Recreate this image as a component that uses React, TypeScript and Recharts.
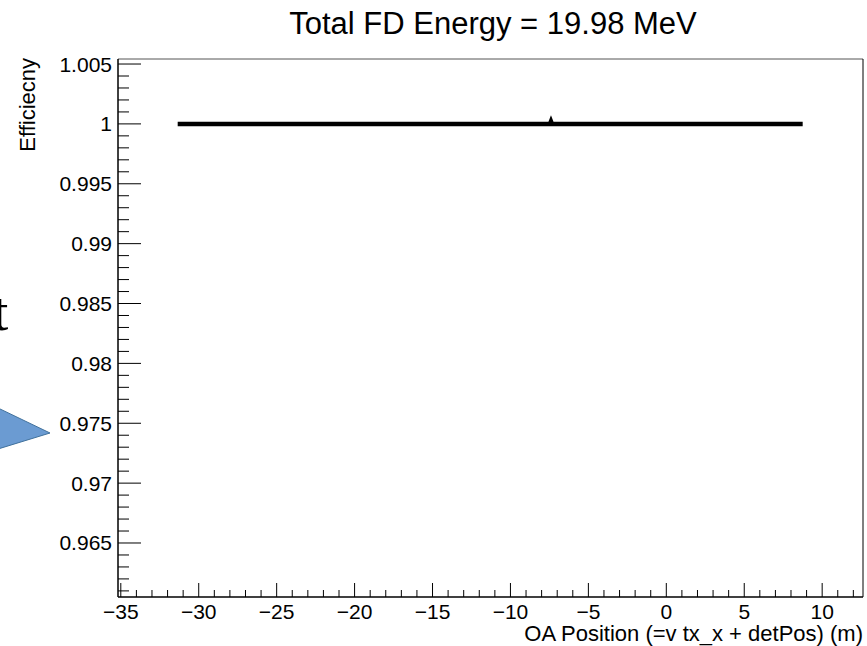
import { LineChart, Line, XAxis, YAxis, ReferenceLine } from 'recharts'

// OA position (m) and detection efficiency
const positions = [-31.35, -30, -25, -20, -15, -10, -7.46, -7.4, -7.34, -5, 0, 5, 8.75]
const efficiency = [1, 1, 1, 1, 1, 1, 1, 1.0002, 1, 1, 1, 1, 1]

const xMajorTicks = [-35, -30, -25, -20, -15, -10, -5, 0, 5, 10]

const X_DOMAIN: [number, number] = [-35.18, 12.62]
const Y_DOMAIN: [number, number] = [0.96049, 1.00542]

// minor ticks every 1 m and every 0.001
const xTicks: number[] = []
for (let k = -35; k <= 12; k++) xTicks.push(k)
const yTicks: number[] = []
for (let k = 961; k <= 1005; k++) yTicks.push(k / 1000)

const data = positions.map((pos, i) => ({ pos, eff: efficiency[i] }))

const FONT = '"Liberation Sans", Arial, Helvetica, sans-serif'

const fmtX = (v: number) => (v < 0 ? '\u2212' + Math.abs(v) : String(v))

function XTick({ x, y, payload }: { x?: number; y?: number; payload?: { value: number } }) {
  const v = payload?.value ?? 0
  const major = xMajorTicks.includes(v)
  const len = major ? 14 : 7
  return (
    <g>
      <line x1={x} x2={x} y1={y} y2={(y ?? 0) - len} stroke="#000" strokeWidth={1} />
      {major && (
        <text x={x} y={(y ?? 0) + 22} textAnchor="middle" fontSize={21} fontFamily={FONT} fill="#000">
          {fmtX(v)}
        </text>
      )}
    </g>
  )
}

function YTick({ x, y, payload }: { x?: number; y?: number; payload?: { value: number } }) {
  const v = payload?.value ?? 0
  const milli = Math.round(v * 1000)
  const major = milli % 5 === 0
  const len = major ? 23 : 11
  return (
    <g>
      <line x1={x} x2={(x ?? 0) + len} y1={y} y2={y} stroke="#000" strokeWidth={1} />
      {major && (
        <text x={(x ?? 0) - 6} y={(y ?? 0) + 7.5} textAnchor="end" fontSize={21} fontFamily={FONT} fill="#000">
          {String(milli / 1000)}
        </text>
      )}
    </g>
  )
}

export default function App() {
  return (
    <div style={{ position: 'absolute', left: 0, top: 0, width: 867, height: 646, background: '#fff', overflow: 'hidden' }}>
      <LineChart width={867} height={646} data={data} margin={{ top: 59, right: 4, bottom: 19, left: 58 }}>
        <XAxis
          dataKey="pos"
          type="number"
          domain={X_DOMAIN}
          ticks={xTicks}
          interval={0}
          allowDataOverflow
          tickSize={0}
          tickMargin={0}
          tickLine={false}
          axisLine={{ stroke: '#000', strokeWidth: 1.5 }}
          tick={(p: any) => <XTick {...p} />}
        />
        <YAxis
          type="number"
          domain={Y_DOMAIN}
          ticks={yTicks}
          interval={0}
          allowDataOverflow
          tickSize={0}
          tickMargin={0}
          tickLine={false}
          axisLine={{ stroke: '#000', strokeWidth: 1.5 }}
          tick={(p: any) => <YTick {...p} />}
        />
        <ReferenceLine y={Y_DOMAIN[1]} stroke="#555" strokeWidth={1} />
        <ReferenceLine x={X_DOMAIN[1]} stroke="#000" strokeWidth={1} />
        <Line
          type="linear"
          dataKey="eff"
          stroke="#000"
          strokeWidth={4.5}
          dot={false}
          isAnimationActive={false}
        />
      </LineChart>
      <svg width={867} height={646} style={{ position: 'absolute', left: 0, top: 0, pointerEvents: 'none' }}>
        <text x={493} y={34} textAnchor="middle" fontSize={31} fontFamily={FONT} fill="#000">
          Total FD Energy = 19.98 MeV
        </text>
        <text x={863} y={641} textAnchor="end" fontSize={22} fontFamily={FONT} fill="#000">
          OA Position (=v tx_x + detPos) (m)
        </text>
        <text
          x={35}
          y={58}
          textAnchor="end"
          fontSize={22}
          fontFamily={FONT}
          fill="#000"
          transform="rotate(-90 35 58)"
        >
          Efficiecny
        </text>
        {/* leftover slide decorations, cut at the left edge as in the source */}
        <text x={-7} y={330} fontSize={55} fontFamily='"Liberation Serif", "Times New Roman", serif' fill="#000">
          t
        </text>
        <polygon points="-2,408 50,433 -2,449" fill="#6b9bd2" stroke="#41719c" strokeWidth={1} />
      </svg>
    </div>
  )
}
